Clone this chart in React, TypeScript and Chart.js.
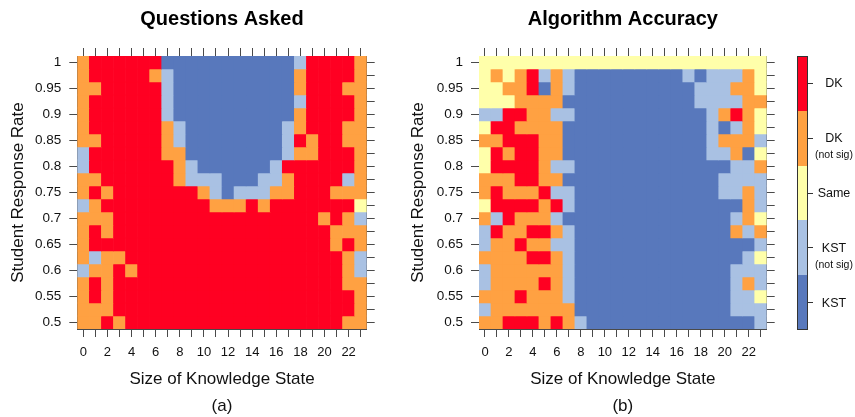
import React, { useEffect, useRef } from 'react';
import { Chart, registerables } from 'chart.js';

Chart.register(...registerables);

const FONT = "'Liberation Sans', Arial, Helvetica, sans-serif";

// Categories: size of knowledge state (columns)
const SIZES = ['0', '1', '2', '3', '4', '5', '6', '7', '8', '9', '10', '11', '12', '13', '14', '15', '16', '17', '18', '19', '20', '21', '22', '23'];
const X_TICK_LABELS = ['0', '2', '4', '6', '8', '10', '12', '14', '16', '18', '20', '22'];

// Categories: student response rate (rows, top to bottom)
const RATES = [1, 0.975, 0.95, 0.925, 0.9, 0.875, 0.85, 0.825, 0.8, 0.775, 0.75, 0.725, 0.7, 0.675, 0.65, 0.625, 0.6, 0.575, 0.55, 0.525, 0.5];
const Y_TICK_LABELS = ['1', '0.95', '0.9', '0.85', '0.8', '0.75', '0.7', '0.65', '0.6', '0.55', '0.5'];

// Cell classes per row (run-length: class + count), R=DK, O=DK(not sig), Y=Same, L=KST(not sig), B=KST
const QUESTIONS_ROWS = [
  'O1 R6 B11 L1 R4 O1',
  'O1 R5 O1 L1 B10 O1 R4 O1',
  'O2 R5 L1 B10 O1 R3 O2',
  'O1 R6 L1 B10 L1 R4 O1',
  'O1 R6 L1 B10 O1 R4 O1',
  'O1 R6 O1 L1 B8 L1 O1 R3 O2',
  'O2 R5 O1 L1 B8 L1 R1 O1 R2 O2',
  'L1 R6 O2 B8 L1 O2 R3 O1',
  'L1 R7 O1 L1 B6 L1 R6 O1',
  'O2 R6 O1 L3 B3 L2 O1 R4 L1 O1',
  'O1 R1 O1 R7 O1 L1 B1 L3 O2 R3 O3',
  'L1 O1 R9 O3 R1 O1 R7 Y1',
  'O3 R17 O1 R1 O1 L1',
  'O1 R1 O1 R18 O3',
  'O1 R20 O1 R1 O1',
  'O1 L1 O2 R18 O1 L1',
  'L1 O2 R1 O1 R17 O1 L1',
  'O1 R1 O1 R19 O2',
  'O1 R1 O1 R20 O1',
  'O3 R20 O1',
  'O2 R1 O1 R18 O2',
];

const ACCURACY_ROWS = [
  'Y24',
  'Y1 O1 Y1 O1 R1 L1 O1 L1 B9 L1 B1 L3 O1 Y1',
  'Y2 O2 R1 B1 O1 L1 B10 L3 O2 Y1',
  'Y3 O4 B11 L4 O2',
  'L2 R2 O2 L2 B11 L1 O1 R1 O1 Y1',
  'Y1 R2 O4 B12 L1 B1 L1 O1 Y1',
  'O2 R3 O2 B12 L1 O3 L1',
  'Y1 R1 O1 R2 O2 B12 L2 O1 B1 Y1',
  'Y1 R4 O1 L2 B13 L2 O1',
  'O3 R2 O2 B13 L4',
  'O1 R1 O3 R1 L2 B12 L2 O1 L1',
  'Y1 R4 O1 R1 L1 B14 O1 L1',
  'O1 L1 R1 O3 L1 B14 L1 O1 Y1',
  'L1 R1 O2 R2 O1 L1 B13 O1 L1 O1',
  'L1 O2 R1 O2 L2 B15 L1',
  'O4 R2 O1 L1 B14 L1 Y1',
  'L1 O6 L1 B13 L3',
  'L1 O4 R1 O1 L1 B13 L1 O1 L1',
  'O3 R1 O3 L1 B13 L2 Y1',
  'L1 O7 B13 L3',
  'O2 R3 O1 R1 O1 L1 B14 L1',
];

const COLORS: Record<string, string> = {
  R: '#FF0022',
  O: '#FFA142',
  Y: '#FFFFAA',
  L: '#A9C1E3',
  B: '#5878BC',
};

const LEGEND_CODES = ['R', 'O', 'Y', 'L', 'B'];
const LEGEND_LABELS = [['DK'], ['DK', '(not sig)'], ['Same'], ['KST', '(not sig)'], ['KST']];

const INK = '#111111';
const FRAME = '#4a4a4a';

function decodeRow(row: string): string[] {
  const out: string[] = [];
  row.split(' ').forEach((tok) => {
    const code = tok[0];
    const n = parseInt(tok.slice(1), 10);
    for (let i = 0; i < n; i++) out.push(code);
  });
  return out;
}

type PanelProps = {
  rows: string[];
  title: string;
  tag: string;
  left: number;
  yAxisWidth: number;
};

function Panel({ rows, title, tag, left, yAxisWidth }: PanelProps) {
  const ref = useRef<HTMLCanvasElement | null>(null);

  useEffect(() => {
    if (!ref.current) return;
    const half = (RATES[0] - RATES[1]) / 2;
    const yMin = RATES[RATES.length - 1] - half;
    const yMax = RATES[0] + half;

    const datasets = RATES.map((rate, r) => {
      const codes = decodeRow(rows[r]);
      return {
        type: 'bar' as const,
        data: SIZES.map(() => [rate - half, rate + half]),
        backgroundColor: codes.map((c) => COLORS[c]),
        borderWidth: 0,
        barPercentage: 1,
        categoryPercentage: 1,
        grouped: false,
      };
    });

    const grid = {
      display: true,
      drawOnChartArea: false,
      drawTicks: true,
      tickLength: 8,
      color: FRAME,
      lineWidth: 1,
      offset: false,
    };
    const border = { display: true, color: FRAME, width: 1 };
    const rateTicks = (scale: any) => {
      scale.ticks = RATES.map((v) => ({ value: v }));
    };

    const chart = new Chart(ref.current, {
      type: 'bar',
      data: { labels: SIZES, datasets: datasets as any },
      options: {
        animation: false,
        responsive: false,
        devicePixelRatio: 1,
        layout: { padding: 0 },
        plugins: {
          legend: { display: false },
          tooltip: { enabled: false },
          title: {
            display: true,
            text: title,
            fullSize: false,
            color: '#000',
            font: { size: 20, weight: 'bold', family: FONT },
            padding: { top: 7.5, bottom: 0 },
          },
          subtitle: {
            display: true,
            text: tag,
            position: 'bottom',
            fullSize: false,
            color: INK,
            font: { size: 17, family: FONT },
            padding: 0,
          },
        },
        scales: {
          x: {
            type: 'category',
            position: 'bottom',
            offset: true,
            grid,
            border,
            ticks: {
              autoSkip: false,
              maxRotation: 0,
              minRotation: 0,
              padding: 8,
              color: INK,
              font: { size: 13, family: FONT },
              callback: (_v: any, i: number) => (X_TICK_LABELS.includes(SIZES[i]) ? SIZES[i] : ''),
            },
            title: {
              display: true,
              text: 'Size of Knowledge State',
              color: INK,
              font: { size: 17, family: FONT },
              padding: { top: 0, bottom: 7.4 },
            },
            afterFit: (s: any) => {
              s.height = 67.6;
            },
          },
          x2: {
            type: 'category',
            position: 'top',
            offset: true,
            grid,
            border,
            ticks: { display: false },
            afterFit: (s: any) => {
              s.height = 24.5;
            },
          },
          y: {
            type: 'linear',
            position: 'left',
            min: yMin,
            max: yMax,
            grid,
            border,
            afterBuildTicks: rateTicks,
            ticks: {
              padding: 8,
              color: INK,
              font: { size: 13.5, family: FONT },
              callback: (v: any) => {
                const s = String(Number(Number(v).toFixed(3)));
                return Y_TICK_LABELS.includes(s) ? s : '';
              },
            },
            title: {
              display: true,
              text: 'Student Response Rate',
              color: INK,
              font: { size: 17, family: FONT },
              padding: { top: 8, bottom: 0 },
            },
            afterFit: (s: any) => {
              s.width = yAxisWidth;
            },
          },
          y2: {
            type: 'linear',
            position: 'right',
            min: yMin,
            max: yMax,
            grid,
            border,
            afterBuildTicks: rateTicks,
            ticks: { display: false },
            afterFit: (s: any) => {
              s.width = 33.3;
            },
          },
        },
      } as any,
    });
    return () => chart.destroy();
  }, [rows, title, tag, yAxisWidth]);

  return (
    <canvas
      ref={ref}
      width={400}
      height={417}
      style={{ position: 'absolute', left, top: 0, width: 400, height: 417 }}
    />
  );
}

function ColorLegend() {
  const top = 56;
  const height = 274;
  const seg = height / LEGEND_CODES.length;
  return (
    <>
      <div
        style={{
          position: 'absolute',
          left: 797,
          top,
          width: 11,
          height,
          border: '1px solid #333',
          boxSizing: 'border-box',
          display: 'flex',
          flexDirection: 'column',
          overflow: 'hidden',
        }}
      >
        {LEGEND_CODES.map((c) => (
          <div key={c} style={{ flex: 1, background: COLORS[c] }} />
        ))}
      </div>
      {LEGEND_LABELS.map((lines, i) => {
        const cy = top + seg * (i + 0.5);
        return (
          <React.Fragment key={i}>
            <div
              style={{
                position: 'absolute',
                left: 808,
                top: cy - 0.5,
                width: 5,
                height: 1,
                background: '#333',
              }}
            />
            <div
              style={{
                position: 'absolute',
                left: 804,
                top: cy - 8,
                width: 60,
                textAlign: 'center',
                fontFamily: FONT,
                color: INK,
                lineHeight: '16px',
              }}
            >
              <div style={{ fontSize: 12.5, height: 16 }}>{lines[0]}</div>
              {lines[1] ? <div style={{ fontSize: 10.5, lineHeight: '13px', marginTop: 2 }}>{lines[1]}</div> : null}
            </div>
          </React.Fragment>
        );
      })}
    </>
  );
}

export default function App() {
  return (
    <div
      style={{
        position: 'absolute',
        left: 0,
        top: 0,
        width: 855,
        height: 417,
        background: '#fff',
        overflow: 'hidden',
      }}
    >
      <Panel rows={QUESTIONS_ROWS} title="Questions Asked" tag="(a)" left={0} yAxisWidth={77.3} />
      <Panel rows={ACCURACY_ROWS} title="Algorithm Accuracy" tag="(b)" left={400} yAxisWidth={79} />
      <ColorLegend />
    </div>
  );
}
